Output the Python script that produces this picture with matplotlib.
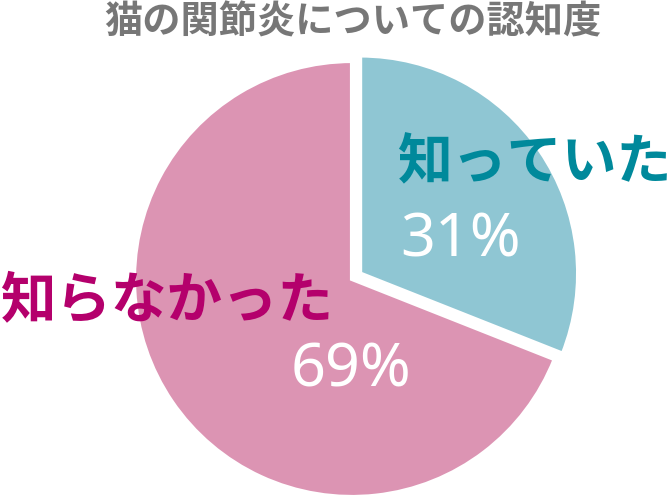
import matplotlib.pyplot as plt

# ===============================
# Data
# ===============================

labels = ["知っていた", "知らなかった"]
values = [31, 69]
pct_labels = ["31%", "69%"]

colors = ["#8fc6d3", "#dc94b3"]
label_colors = ["#00899b", "#b4006c"]

plt.rcParams['font.family'] = ['Noto Sans CJK JP', 'DejaVu Sans']

# ===============================
# Figure
# ===============================

W, H = 671, 497
fig = plt.figure(figsize=(W / 100, H / 100), dpi=100)
ax = fig.add_axes([0, 0, 1, 1])

# pie centre (pixels) and radius (pixels)
cx, cy, r = 352, 279, 218

ax.pie(
    values,
    colors=colors,
    startangle=90,
    counterclock=False,
    explode=[0.045, 0],
    wedgeprops=dict(edgecolor="white", linewidth=3),
)

ax.set_xlim(-cx / r, (W - cx) / r)
ax.set_ylim((cy - H) / r, cy / r)
ax.set_aspect("equal")
ax.axis("off")

# ===============================
# Text
# ===============================

def px(x, y):
    return x / W, 1 - y / H

fig.text(*px(353, 22), "猫の関節炎についての認知度", ha="center", va="center",
         fontsize=27.5, fontweight="bold", color="#777777")

fig.text(*px(397, 163), labels[0], ha="left", va="center",
         fontsize=39.5, fontweight="bold", color=label_colors[0])
fig.text(*px(400, 241), pct_labels[0], ha="left", va="center",
         fontsize=44, color="white", family=["Noto Sans", "DejaVu Sans"])

fig.text(*px(0, 301), labels[1], ha="left", va="center",
         fontsize=40, fontweight="bold", color=label_colors[1])
fig.text(*px(291, 371), pct_labels[1], ha="left", va="center",
         fontsize=44, color="white", family=["Noto Sans", "DejaVu Sans"])

fig.savefig("out.png", dpi=100, facecolor="white")
